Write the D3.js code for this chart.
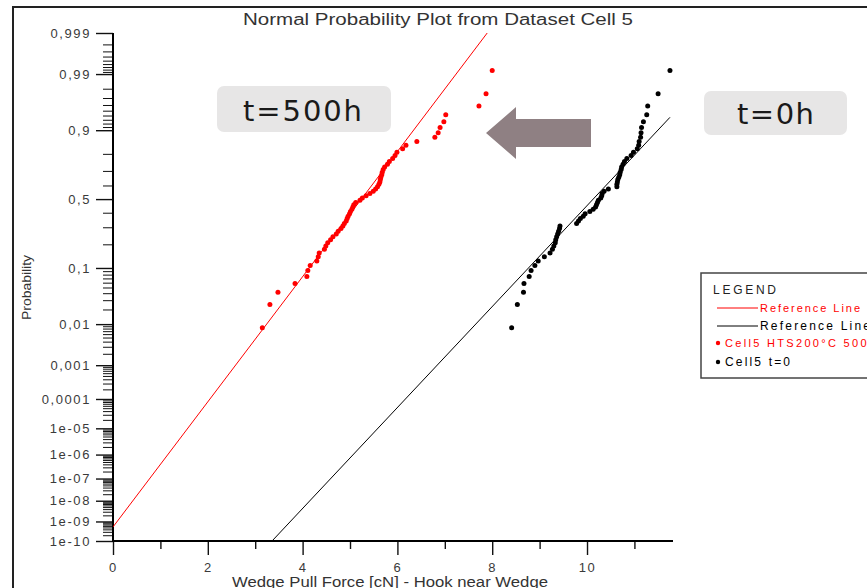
<!DOCTYPE html>
<html>
<head>
<meta charset="utf-8">
<script src="https://cdn.jsdelivr.net/npm/d3@7"></script>
<style>
  body { margin: 0; background: #fff; }
  text { font-family: "Liberation Sans", Arial, sans-serif; }
</style>
</head>
<body>
<svg id="chart" width="867" height="588"></svg>
<script>
// pull force values, sorted (n = 60 each)
const forceAged = [3.15, 3.31, 3.48, 3.84, 4.09, 4.11, 4.16, 4.30, 4.33, 4.35,
  4.46, 4.49, 4.53, 4.59, 4.64, 4.71, 4.75, 4.81, 4.85, 4.88,
  4.92, 4.94, 4.96, 4.99, 5.01, 5.04, 5.06, 5.08, 5.12, 5.21,
  5.26, 5.34, 5.42, 5.49, 5.54, 5.58, 5.61, 5.63, 5.64, 5.65,
  5.67, 5.68, 5.70, 5.73, 5.79, 5.83, 5.90, 5.95, 5.99, 6.11,
  6.18, 6.41, 6.79, 6.86, 6.90, 6.98, 7.02, 7.72, 7.87, 8.00];
const forceInitial = [8.41, 8.53, 8.66, 8.67, 8.78, 8.82, 8.90, 8.97, 9.10, 9.22,
  9.27, 9.30, 9.33, 9.34, 9.36, 9.38, 9.40, 9.42, 9.43, 9.78,
  9.82, 9.86, 9.92, 9.96, 10.06, 10.13, 10.18, 10.20, 10.22, 10.24,
  10.29, 10.31, 10.32, 10.36, 10.45, 10.63, 10.63, 10.64, 10.65, 10.67,
  10.69, 10.70, 10.72, 10.73, 10.76, 10.79, 10.84, 10.93, 10.98, 11.06,
  11.09, 11.10, 11.13, 11.14, 11.15, 11.19, 11.26, 11.28, 11.50, 11.75];

const seriesNames = ["Cell5 HTS200°C 500h", "Cell5 t=0"];
const seriesColors = ["#ff0000", "#000000"];
// fitted reference lines (mean, sd) per series
const refMean = [5.24, 10.13];
const refSd = [0.859, 1.065];

const yTickValues = [1e-10, 1e-9, 1e-8, 1e-7, 1e-6, 1e-5, 1e-4, 0.001, 0.01, 0.1, 0.5, 0.9, 0.99, 0.999];
const yTickLabels = ["1e-10", "1e-09", "1e-08", "1e-07", "1e-06", "1e-05", "0,0001", "0,001", "0,01", "0,1", "0,5", "0,9", "0,99", "0,999"];
const xTickValues = [0, 2, 4, 6, 8, 10];
const xMinorValues = [1, 3, 5, 7, 9, 11];

// inverse normal cdf (Acklam)
function probit(p) {
  const a = [-3.969683028665376e+01, 2.209460984245205e+02, -2.759285104469687e+02, 1.383577518672690e+02, -3.066479806614716e+01, 2.506628277459239e+00];
  const b = [-5.447609879822406e+01, 1.615858368580409e+02, -1.556989798598866e+02, 6.680131188771972e+01, -1.328068155288572e+01];
  const c = [-7.784894002430293e-03, -3.223964580411365e-01, -2.400758277161838e+00, -2.549732539343734e+00, 4.374664141464968e+00, 2.938163982698783e+00];
  const d = [7.784695709041462e-03, 3.224671290700398e-01, 2.445134137142996e+00, 3.754408661907416e+00];
  const pl = 0.02425;
  let q, r;
  if (p < pl) {
    q = Math.sqrt(-2 * Math.log(p));
    return (((((c[0]*q+c[1])*q+c[2])*q+c[3])*q+c[4])*q+c[5]) / ((((d[0]*q+d[1])*q+d[2])*q+d[3])*q+1);
  }
  if (p <= 1 - pl) {
    q = p - 0.5; r = q * q;
    return (((((a[0]*r+a[1])*r+a[2])*r+a[3])*r+a[4])*r+a[5])*q / (((((b[0]*r+b[1])*r+b[2])*r+b[3])*r+b[4])*r+1);
  }
  q = Math.sqrt(-2 * Math.log(1 - p));
  return -(((((c[0]*q+c[1])*q+c[2])*q+c[3])*q+c[4])*q+c[5]) / ((((d[0]*q+d[1])*q+d[2])*q+d[3])*q+1);
}

const svg = d3.select("#chart");
const plot = { left: 113, right: 673, top: 33, bottom: 541 };

const x = d3.scaleLinear().domain([0, 11.814]).range([plot.left, plot.right]);
const y = d3.scaleLinear().domain([probit(1e-10), probit(0.999)]).range([plot.bottom, plot.top]);

// outer frame
svg.append("line").attr("x1", 13).attr("x2", 867).attr("y1", 7).attr("y2", 7)
  .attr("stroke", "#222").attr("stroke-width", 2);
svg.append("line").attr("x1", 13).attr("x2", 13).attr("y1", 6).attr("y2", 588)
  .attr("stroke", "#222").attr("stroke-width", 2);

// minor y ticks
let yMinor = [];
for (let e = -10; e <= -2; e++) {
  for (let k = 2; k <= 9; k++) yMinor.push(k * Math.pow(10, e));
}
yMinor = yMinor.concat([0.2, 0.3, 0.4, 0.6, 0.7, 0.8]);
for (let k = 1; k <= 8; k++) yMinor.push(1 - (10 - k) / 100);
for (let k = 1; k <= 8; k++) yMinor.push(1 - (10 - k) / 1000);

const tickColor = "#3a3a3a";

const yMinorAxis = svg.append("g")
  .attr("transform", `translate(${plot.left},0)`)
  .call(d3.axisLeft(y).tickValues(yMinor.map(probit)).tickSize(10).tickFormat(""));
yMinorAxis.select(".domain").remove();
yMinorAxis.selectAll("line").attr("stroke", "#111").attr("stroke-width", 1);

const yAxis = svg.append("g")
  .attr("transform", `translate(${plot.left},0)`)
  .call(d3.axisLeft(y).tickValues(yTickValues.map(probit)).tickSize(17).tickPadding(5)
    .tickFormat((d, i) => yTickLabels[i]));
yAxis.select(".domain").remove();
yAxis.selectAll("line").attr("stroke", "#111").attr("stroke-width", 1.4);
yAxis.selectAll("text").attr("fill", tickColor).style("font-size", "13px")
  .style("letter-spacing", "1.6px");

const xMinorAxis = svg.append("g")
  .attr("transform", `translate(0,${plot.bottom})`)
  .call(d3.axisBottom(x).tickValues(xMinorValues).tickSize(8).tickFormat(""));
xMinorAxis.select(".domain").remove();
xMinorAxis.selectAll("line").attr("stroke", "#111").attr("stroke-width", 1.4);

const xAxis = svg.append("g")
  .attr("transform", `translate(0,${plot.bottom})`)
  .call(d3.axisBottom(x).tickValues(xTickValues).tickSize(14).tickPadding(8));
xAxis.select(".domain").remove();
xAxis.selectAll("line").attr("stroke", "#111").attr("stroke-width", 1.4);
xAxis.selectAll("text").attr("fill", tickColor).style("font-size", "13px")
  .style("letter-spacing", "1.6px");

// axis lines
svg.append("line").attr("x1", plot.left).attr("x2", plot.left)
  .attr("y1", plot.top).attr("y2", plot.bottom + 1)
  .attr("stroke", "#000").attr("stroke-width", 2);
svg.append("line").attr("x1", plot.left - 1).attr("x2", plot.right)
  .attr("y1", plot.bottom).attr("y2", plot.bottom)
  .attr("stroke", "#000").attr("stroke-width", 2);

// titles
svg.append("text").attr("x", 243).attr("y", 25)
  .attr("textLength", 390).attr("lengthAdjust", "spacingAndGlyphs")
  .attr("fill", "#333").style("font-size", "16px")
  .text("Normal Probability Plot from Dataset Cell 5");
svg.append("text").attr("x", 232).attr("y", 587)
  .attr("textLength", 316).attr("lengthAdjust", "spacingAndGlyphs")
  .attr("fill", "#333").style("font-size", "14px")
  .text("Wedge Pull Force [cN] - Hook near Wedge");
svg.append("text").attr("transform", "translate(31,287.5) rotate(-90)")
  .attr("text-anchor", "middle")
  .attr("textLength", 65).attr("lengthAdjust", "spacingAndGlyphs")
  .attr("fill", "#333").style("font-size", "13px")
  .text("Probability");

// reference lines and points
svg.append("clipPath").attr("id", "clip").append("rect")
  .attr("x", plot.left).attr("y", plot.top)
  .attr("width", plot.right - plot.left).attr("height", plot.bottom - plot.top);

const datasets = [forceAged, forceInitial];
const line = d3.line().x(d => x(d[0])).y(d => y(d[1]));

datasets.forEach((values, s) => {
  const xs = [0, d3.max(values)];
  svg.append("path")
    .attr("clip-path", "url(#clip)")
    .attr("d", line(xs.map(v => [v, (v - refMean[s]) / refSd[s]])))
    .attr("fill", "none")
    .attr("stroke", seriesColors[s])
    .attr("stroke-width", 1);
});

datasets.forEach((values, s) => {
  const n = values.length;
  svg.append("g").selectAll("circle")
    .data(values)
    .enter()
    .append("circle")
    .attr("cx", d => x(d))
    .attr("cy", (d, i) => y(probit((i + 0.5) / n)))
    .attr("r", 2.5)
    .attr("fill", seriesColors[s]);
});

// annotations
function labelBox(bx, by, bw, bh, label, tx, tw) {
  svg.append("rect").attr("x", bx).attr("y", by).attr("width", bw).attr("height", bh)
    .attr("rx", 7).attr("fill", "#e7e6e6");
  svg.append("text").attr("x", tx).attr("y", by + bh - 11)
    .attr("textLength", tw).attr("lengthAdjust", "spacing")
    .style("font-family", "'DejaVu Sans', sans-serif").style("font-size", "29px")
    .attr("fill", "#1a1a1a").text(label);
}
labelBox(217, 86, 174, 46, "t=500h", 243, 119);
labelBox(704, 91, 143, 44, "t=0h", 737, 77);

svg.append("polygon")
  .attr("points", "486,133 516,107 516,119 591,119 591,147 516,147 516,159")
  .attr("fill", "#8f8083");

// legend
const legend = svg.append("g");
legend.append("rect").attr("x", 701).attr("y", 273).attr("width", 200).attr("height", 105)
  .attr("fill", "#fff").attr("stroke", "#444").attr("stroke-width", 1.5);
legend.append("text").attr("x", 713).attr("y", 294)
  .attr("textLength", 63).attr("lengthAdjust", "spacing")
  .style("font-size", "12px").attr("fill", "#222").text("LEGEND");
["Reference Line", "Reference Line"].forEach((t, s) => {
  const ly = 308 + s * 18;
  legend.append("line").attr("x1", 717).attr("x2", 758).attr("y1", ly).attr("y2", ly)
    .attr("stroke", seriesColors[s]).attr("stroke-width", 1);
  legend.append("text").attr("x", 760).attr("y", ly + 4)
    .attr("textLength", s === 0 ? 100 : 110).attr("lengthAdjust", "spacing")
    .style("font-size", s === 0 ? "11px" : "12px").attr("fill", seriesColors[s]).text(t);
});
seriesNames.forEach((t, s) => {
  const ly = 343 + s * 19;
  legend.append("circle").attr("cx", 718).attr("cy", ly).attr("r", 2.2).attr("fill", seriesColors[s]);
  legend.append("text").attr("x", 725).attr("y", ly + 4)
    .attr("textLength", s === 0 ? 150 : 65).attr("lengthAdjust", "spacing")
    .style("font-size", s === 0 ? "11px" : "12px").attr("fill", seriesColors[s]).text(t);
});
</script>
</body>
</html>
